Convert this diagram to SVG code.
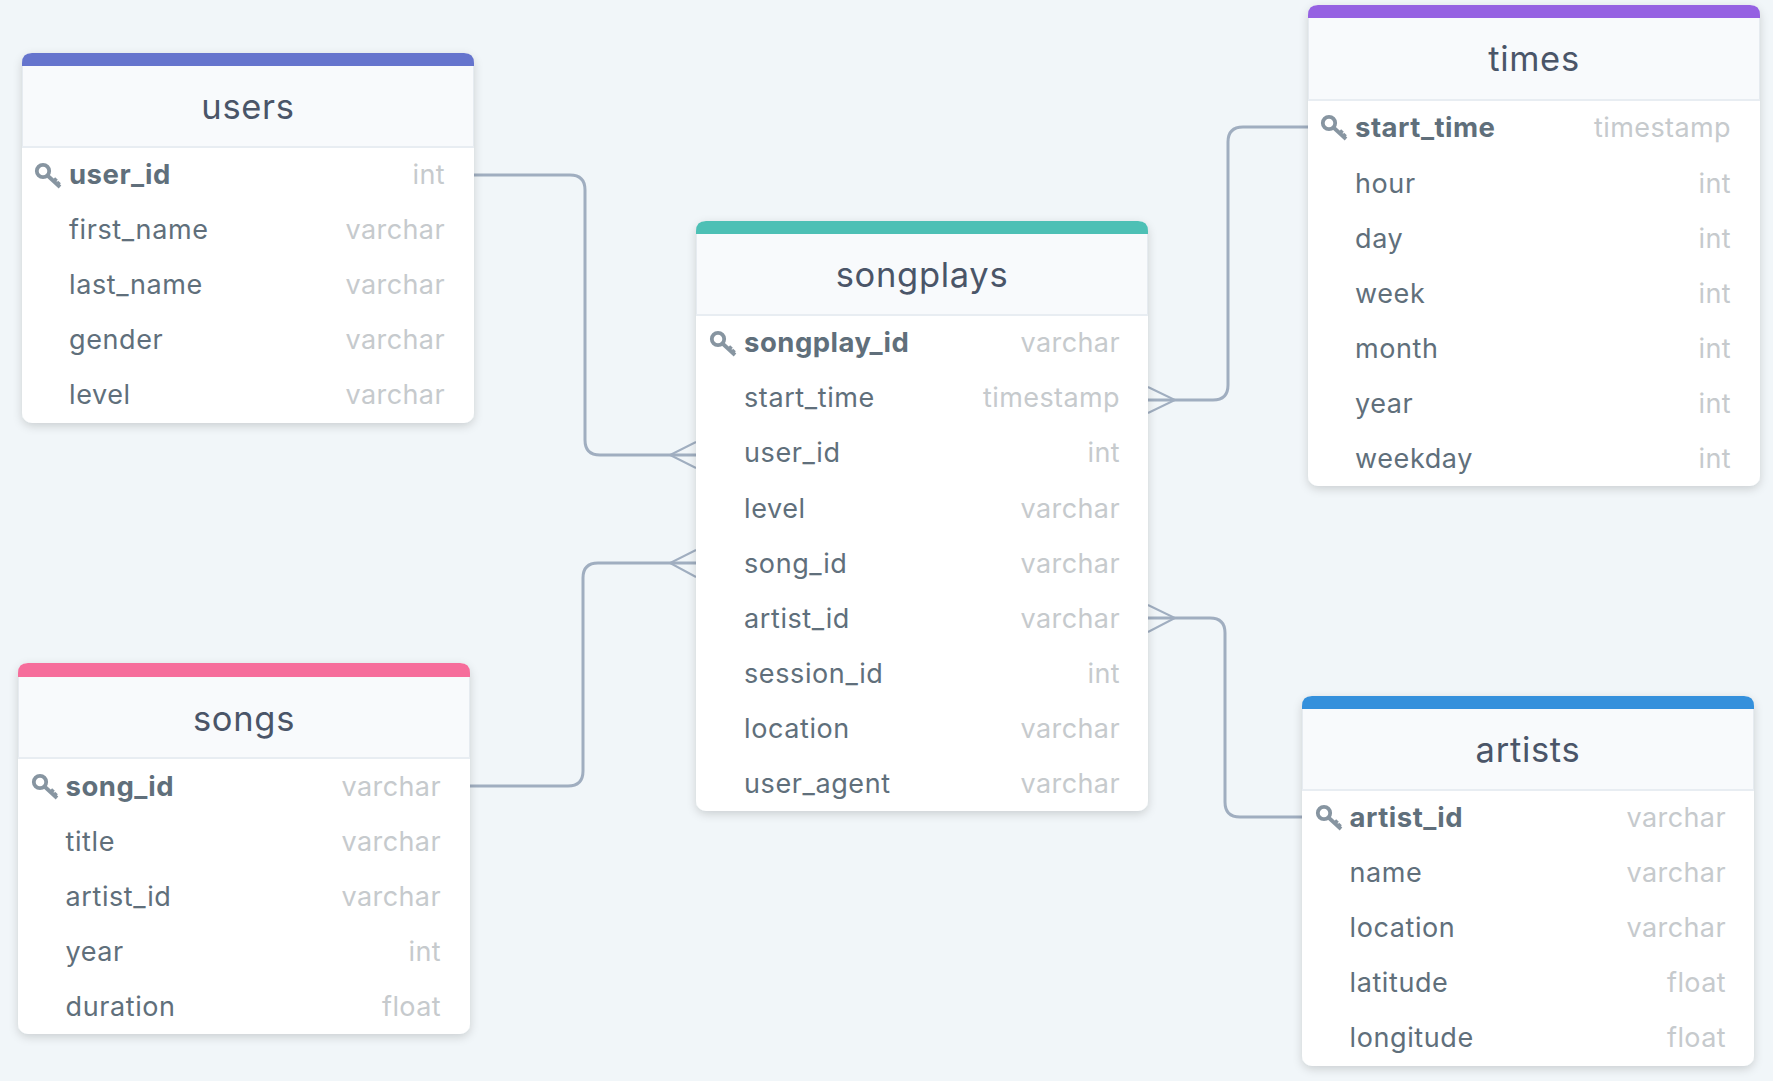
<svg xmlns="http://www.w3.org/2000/svg" width="1773" height="1081" viewBox="0 0 1773 1081">
<style>
text{font-family:Inter,"Noto Sans","Liberation Sans",sans-serif}
.title{font-size:34.5px;letter-spacing:.7px;fill:#4a5568;text-anchor:middle}
.n{font-size:27px;letter-spacing:.6px;fill:#606f7b}
.k{font-size:27.5px;letter-spacing:.5px;fill:#606f7b;font-weight:700}
.t{font-size:27px;letter-spacing:.4px;fill:#c6cacd;text-anchor:end}
.head{fill:#f8fafc}
.edge{fill:#e6ebf0}
.body{fill:#fff;filter:url(#sh)}
.rule{stroke:#e8edf2;stroke-width:2}
.c{fill:none;stroke:#a0aec0;stroke-width:3}
.f{fill:none;stroke:#a0aec0;stroke-width:2}
</style>
<defs>
<filter id="sh" x="-6%" y="-6%" width="112%" height="114%"><feDropShadow dx="0" dy="3" stdDeviation="5" flood-color="#000" flood-opacity=".16"/></filter>
<g id="key" fill="none" stroke="#8795a1" stroke-width="3.8"><circle cx="8" cy="8" r="6.2"/><path d="M12.5 12.5L25 24M18.500 18.500l3-3M22 21.500l2.500-2.500"/></g>
</defs>
<rect width="1773" height="1081" fill="#f1f6f9"/>
<g id="connectors">
<path class="c" d="M474 175H570Q585 175 585 190V440Q585 455 600 455H696"/><path class="f" d="M696 442L670 455L696 468"/>
<path class="c" d="M470 786H568Q583 786 583 771V578Q583 563 598 563H696"/><path class="f" d="M696 550L670 563L696 577"/>
<path class="c" d="M1308 127H1243Q1228 127 1228 142V385Q1228 400 1213 400H1148"/><path class="f" d="M1148 387L1175 400L1148 413"/>
<path class="c" d="M1303 817H1240Q1225 817 1225 802V633Q1225 618 1210 618H1148"/><path class="f" d="M1148 605L1175 618L1148 632"/>
</g>
<g id="users">
<rect class="body" x="22" y="53" width="452" height="370" rx="10"/>
<rect class="edge" x="22" y="60" width="452" height="87"/><rect class="head" x="23" y="60" width="450" height="87"/>
<path fill="#6574cd" d="M22 66V63Q22 53 32 53H464Q474 53 474 63V66Z"/><path class="rule" d="M22 147H474"/>
<text class="title" x="248" y="119">users</text>
<use href="#key" x="35" y="163"/>
<text class="k" x="69" y="184">user_id</text><text class="t" x="445" y="184">int</text>
<text class="n" x="69" y="239">first_name</text><text class="t" x="445" y="239">varchar</text>
<text class="n" x="69" y="294">last_name</text><text class="t" x="445" y="294">varchar</text>
<text class="n" x="69" y="349">gender</text><text class="t" x="445" y="349">varchar</text>
<text class="n" x="69" y="404">level</text><text class="t" x="445" y="404">varchar</text>
</g>
<g id="songs">
<rect class="body" x="18" y="663" width="452" height="371" rx="10"/>
<rect class="edge" x="18" y="670" width="452" height="88"/><rect class="head" x="19" y="670" width="450" height="88"/>
<path fill="#f66d9b" d="M18 677V673Q18 663 28 663H460Q470 663 470 673V677Z"/><path class="rule" d="M18 758H470"/>
<text class="title" x="244" y="731">songs</text>
<use href="#key" x="32" y="774"/>
<text class="k" x="65.500" y="796">song_id</text><text class="t" x="441" y="796">varchar</text>
<text class="n" x="65.500" y="851">title</text><text class="t" x="441" y="851">varchar</text>
<text class="n" x="65.500" y="906">artist_id</text><text class="t" x="441" y="906">varchar</text>
<text class="n" x="65.500" y="961">year</text><text class="t" x="441" y="961">int</text>
<text class="n" x="65.500" y="1016">duration</text><text class="t" x="441" y="1016">float</text>
</g>
<g id="songplays">
<rect class="body" x="696" y="221" width="452" height="590" rx="10"/>
<rect class="edge" x="696" y="228" width="452" height="87"/><rect class="head" x="697" y="228" width="450" height="87"/>
<path fill="#4dc0b5" d="M696 234V231Q696 221 706 221H1138Q1148 221 1148 231V234Z"/><path class="rule" d="M696 315H1148"/>
<text class="title" x="922" y="287">songplays</text>
<use href="#key" x="710" y="331"/>
<text class="k" x="744" y="352">songplay_id</text><text class="t" x="1120" y="352">varchar</text>
<text class="n" x="744" y="407">start_time</text><text class="t" x="1120" y="407">timestamp</text>
<text class="n" x="744" y="462">user_id</text><text class="t" x="1120" y="462">int</text>
<text class="n" x="744" y="518">level</text><text class="t" x="1120" y="518">varchar</text>
<text class="n" x="744" y="573">song_id</text><text class="t" x="1120" y="573">varchar</text>
<text class="n" x="744" y="628">artist_id</text><text class="t" x="1120" y="628">varchar</text>
<text class="n" x="744" y="683">session_id</text><text class="t" x="1120" y="683">int</text>
<text class="n" x="744" y="738">location</text><text class="t" x="1120" y="738">varchar</text>
<text class="n" x="744" y="793">user_agent</text><text class="t" x="1120" y="793">varchar</text>
</g>
<g id="times">
<rect class="body" x="1308" y="5" width="452" height="481" rx="10"/>
<rect class="edge" x="1308" y="12" width="452" height="88"/><rect class="head" x="1309" y="12" width="450" height="88"/>
<path fill="#9561e2" d="M1308 18V15Q1308 5 1318 5H1750Q1760 5 1760 15V18Z"/><path class="rule" d="M1308 100H1760"/>
<text class="title" x="1534" y="71">times</text>
<use href="#key" x="1321" y="115"/>
<text class="k" x="1355" y="137">start_time</text><text class="t" x="1731" y="137">timestamp</text>
<text class="n" x="1355" y="193">hour</text><text class="t" x="1731" y="193">int</text>
<text class="n" x="1355" y="248">day</text><text class="t" x="1731" y="248">int</text>
<text class="n" x="1355" y="303">week</text><text class="t" x="1731" y="303">int</text>
<text class="n" x="1355" y="358">month</text><text class="t" x="1731" y="358">int</text>
<text class="n" x="1355" y="413">year</text><text class="t" x="1731" y="413">int</text>
<text class="n" x="1355" y="468">weekday</text><text class="t" x="1731" y="468">int</text>
</g>
<g id="artists">
<rect class="body" x="1302" y="696" width="452" height="370" rx="10"/>
<rect class="edge" x="1302" y="703" width="452" height="87"/><rect class="head" x="1303" y="703" width="450" height="87"/>
<path fill="#3490dc" d="M1302 709V706Q1302 696 1312 696H1744Q1754 696 1754 706V709Z"/><path class="rule" d="M1302 790H1754"/>
<text class="title" x="1528" y="762">artists</text>
<use href="#key" x="1316" y="805"/>
<text class="k" x="1349.500" y="827">artist_id</text><text class="t" x="1726" y="827">varchar</text>
<text class="n" x="1349.500" y="882">name</text><text class="t" x="1726" y="882">varchar</text>
<text class="n" x="1349.500" y="937">location</text><text class="t" x="1726" y="937">varchar</text>
<text class="n" x="1349.500" y="992">latitude</text><text class="t" x="1726" y="992">float</text>
<text class="n" x="1349.500" y="1047">longitude</text><text class="t" x="1726" y="1047">float</text>
</g>
</svg>
